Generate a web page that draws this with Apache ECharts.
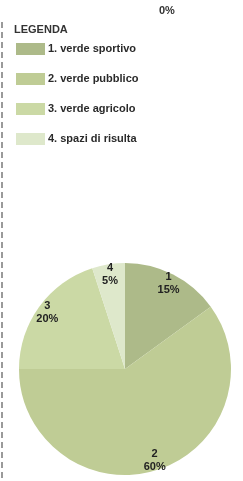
<!DOCTYPE html>
<html>
<head>
<meta charset="utf-8">
<script src="https://cdn.jsdelivr.net/npm/echarts@6/dist/echarts.min.js"></script>
<style>
html, body { margin: 0; padding: 0; background: #fff; }
#chart { width: 243px; height: 481px; }
</style>
</head>
<body>
<div id="chart"></div>
<script>
// legend names, slice numbers and shares (%)
var categories = ['1. verde sportivo', '2. verde pubblico', '3. verde agricolo', '4. spazi di risulta'];
var sliceNumbers = ['1', '2', '3', '4'];
var values = [15, 60, 20, 5];
var colors = ['#adba89', '#bfcc95', '#cbd9a5', '#dee8cb'];

var pieData = [];
for (var i in categories) {
  pieData.push({ name: categories[i], value: values[i] });
}

var myChart = echarts.init(document.getElementById('chart'));
myChart.setOption({
  animation: false,
  color: colors,
  title: {
    text: 'LEGENDA',
    left: 14,
    top: 24,
    padding: 0,
    textStyle: { fontFamily: 'Liberation Sans', fontSize: 11, fontWeight: 'bold', color: '#333' }
  },
  legend: {
    orient: 'vertical',
    left: 16,
    top: 43,
    padding: 0,
    itemWidth: 29,
    itemHeight: 12,
    itemGap: 18,
    icon: 'rect',
    data: categories,
    textStyle: { fontFamily: 'Liberation Sans', fontSize: 11, fontWeight: 'bold', color: '#2a2a2a', padding: [0, 0, 0, -2] }
  },
  graphic: [
    {
      type: 'text',
      left: 159,
      top: 5,
      style: { text: '0%', fontFamily: 'Liberation Sans', fontSize: 11, fontWeight: 'bold', fill: '#333' }
    },
    {
      type: 'line',
      shape: { x1: 2, y1: 22, x2: 2, y2: 481 },
      style: { stroke: '#9a9a9a', lineWidth: 2, lineDash: [6, 4] }
    }
  ],
  series: [
    {
      type: 'pie',
      center: [125, 369],
      radius: [0, 106],
      startAngle: 90,
      clockwise: true,
      silent: true,
      label: { show: false },
      labelLine: { show: false },
      data: pieData
    },
    {
      // label ring, same data
      type: 'pie',
      center: [125, 369],
      radius: [80, 106],
      startAngle: 90,
      clockwise: true,
      silent: true,
      itemStyle: { color: 'rgba(0,0,0,0)' },
      label: {
        show: true,
        position: 'inside',
        fontFamily: 'Liberation Sans',
        fontSize: 11,
        fontWeight: 'bold',
        color: '#222',
        lineHeight: 13,
        formatter: function (p) {
          return sliceNumbers[p.dataIndex] + '\n' + values[p.dataIndex] + '%';
        }
      },
      labelLine: { show: false },
      data: pieData
    }
  ]
});
</script>
</body>
</html>
